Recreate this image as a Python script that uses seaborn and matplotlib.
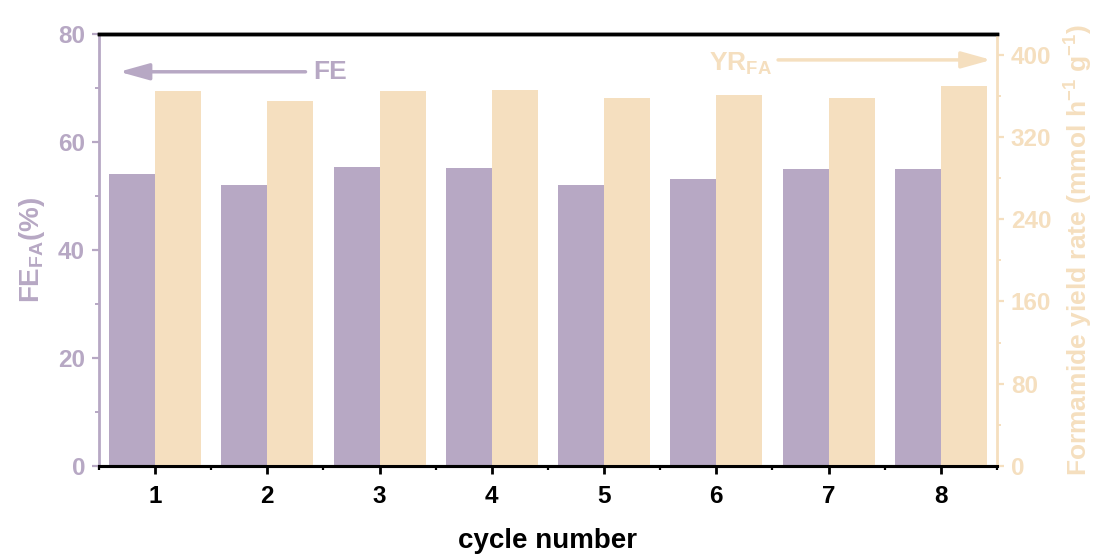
import matplotlib
matplotlib.use("Agg")
import matplotlib.pyplot as plt
import seaborn as sns
import pandas as pd
from matplotlib.ticker import MultipleLocator, FixedLocator

# ---- data ----
cycles = [1, 2, 3, 4, 5, 6, 7, 8]
fe_values = [54.0, 52.0, 55.4, 55.2, 52.0, 53.1, 55.0, 55.0]          # FE_FA (%)
yr_values = [365, 355, 365, 366, 358, 361, 358, 369]                  # mmol h-1 g-1
series_names = ["FE", "YR"]

PURPLE = "#B7A8C4"
BEIGE = "#F5DFBF"

sns.set_style("ticks")
plt.rcParams["font.family"] = ["Liberation Sans", "DejaVu Sans"]
plt.rcParams["font.weight"] = "bold"
plt.rcParams["mathtext.fontset"] = "custom"
plt.rcParams["mathtext.rm"] = "Liberation Sans:bold"
plt.rcParams["mathtext.bf"] = "Liberation Sans:bold"
plt.rcParams["mathtext.default"] = "bf"

df_fe = pd.DataFrame({"cycle": cycles, "value": fe_values, "series": "FE"})
df_yr = pd.DataFrame({"cycle": cycles, "value": yr_values, "series": "YR"})

fig = plt.figure(figsize=(11.02, 5.59), dpi=100)
ax1 = fig.add_axes([0.0898, 0.1664, 0.8149, 0.7728])
ax2 = ax1.twinx()

pal = {"FE": PURPLE, "YR": BEIGE}
sns.barplot(data=df_fe, x="cycle", y="value", hue="series", hue_order=series_names,
            palette=pal, dodge=True, width=0.82, errorbar=None, legend=False,
            saturation=1, linewidth=0, ax=ax1)
sns.barplot(data=df_yr, x="cycle", y="value", hue="series", hue_order=series_names,
            palette=pal, dodge=True, width=0.82, errorbar=None, legend=False,
            saturation=1, linewidth=0, ax=ax2)

ax1.set_xlim(-0.5, len(cycles) - 0.5)
ax1.set_ylim(0, 80)
ax2.set_ylim(0, 420)

# ticks
ax1.yaxis.set_major_locator(MultipleLocator(20))
ax1.yaxis.set_minor_locator(MultipleLocator(10))
ax2.yaxis.set_major_locator(MultipleLocator(80))
ax2.yaxis.set_minor_locator(MultipleLocator(40))
ax1.xaxis.set_minor_locator(FixedLocator([i - 0.5 for i in range(len(cycles) + 1)]))

ax1.tick_params(axis="y", which="major", direction="out", length=5, width=1.6,
                colors=PURPLE, labelsize=17.5, pad=5)
ax1.tick_params(axis="y", which="minor", direction="out", length=3, width=1.4, colors=PURPLE)
ax2.tick_params(axis="y", which="major", direction="out", length=5, width=1.6,
                colors=BEIGE, labelsize=17.5, pad=5)
ax2.tick_params(axis="y", which="minor", direction="out", length=3, width=1.4, colors=BEIGE)
ax1.tick_params(axis="x", which="major", direction="out", length=6, width=2,
                colors="black", labelsize=17.5, pad=8)
ax1.tick_params(axis="x", which="minor", direction="out", length=3, width=1.6, colors="black")
ax2.tick_params(axis="x", which="both", bottom=False, top=False, labelbottom=False)

for lab in ax1.get_yticklabels() + ax1.get_xticklabels() + ax2.get_yticklabels():
    lab.set_fontweight("bold")

# spines
for ax in (ax1, ax2):
    ax.spines["top"].set_visible(True)
    ax.spines["top"].set_color("black")
    ax.spines["top"].set_linewidth(2.5)
    ax.spines["bottom"].set_color("black")
    ax.spines["bottom"].set_linewidth(2.2)
ax1.spines["left"].set_color(PURPLE)
ax1.spines["left"].set_linewidth(2)
ax1.spines["right"].set_visible(False)
ax2.spines["left"].set_visible(False)
ax2.spines["right"].set_visible(True)
ax2.spines["right"].set_color(BEIGE)
ax2.spines["right"].set_linewidth(2)

# labels
ax1.set_xlabel("cycle number", fontsize=20, fontweight="bold", color="black", labelpad=14)
ax1.set_ylabel("FE$_{FA}$(%)", fontsize=20, fontweight="bold", color=PURPLE, labelpad=8)
ax2.set_ylabel("Formamide yield rate (mmol h$^{-1}$ g$^{-1}$)", fontsize=19,
               fontweight="bold", color=BEIGE, labelpad=8)
ax2.set_xlabel("")

# annotation arrows
arrow_style = "-|>,head_length=0.9,head_width=0.25"
ax1.annotate("", xy=(-0.32, 73), xytext=(1.34, 73),
             arrowprops=dict(arrowstyle=arrow_style, color=PURPLE, lw=2.5,
                             mutation_scale=20, shrinkA=0, shrinkB=0))
ax1.text(1.41, 73, "FE", color=PURPLE, fontsize=19, fontweight="bold",
         ha="left", va="center")
ax1.annotate("", xy=(7.45, 75.2), xytext=(5.55, 75.2),
             arrowprops=dict(arrowstyle=arrow_style, color=BEIGE, lw=2.5,
                             mutation_scale=20, shrinkA=0, shrinkB=0))
ax1.text(5.50, 74.4, "YR$_{FA}$", color=BEIGE, fontsize=19, fontweight="bold",
         ha="right", va="center")

fig.savefig("out.png", dpi=100)
